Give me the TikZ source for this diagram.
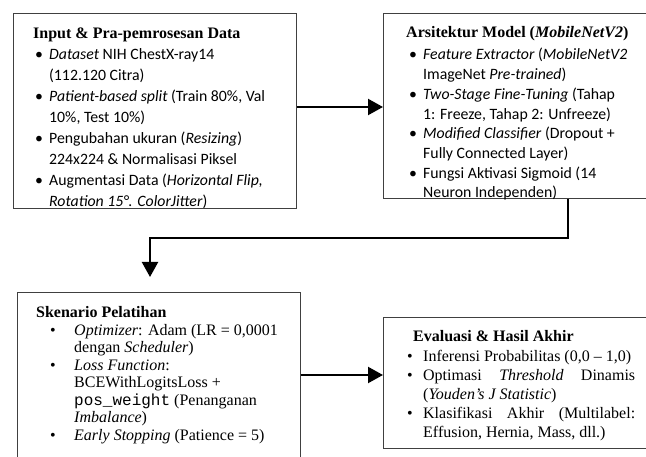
\documentclass[tikz,border=0pt]{standalone}
\usepackage{fontspec}
\setmainfont{Liberation Serif}
\setmonofont{Liberation Mono}
\newfontfamily\calfont{Carlito}
\usetikzlibrary{arrows.meta}
\newcommand\bA[1]{\makebox[16pt][l]{\hspace{2pt}\textbullet}#1}
\newcommand\cA[1]{\hspace*{16pt}#1}
\newcommand\bB[1]{\makebox[17pt][l]{\hspace{3pt}\textbullet}#1}
\newcommand\cB[1]{\hspace*{17pt}#1}
\newcommand\bC[1]{\makebox[38pt][l]{\hspace{14pt}\textbullet}#1}
\newcommand\cC[1]{\hspace*{38pt}#1}
\newcommand\bD[1]{\makebox[16pt][l]{\textbullet}#1}
\newcommand\cD[1]{\hspace*{16pt}#1}
\begin{document}
\begin{tikzpicture}[x=1pt,y=-1pt,
  box/.style={draw=black!75,line width=1.2pt,anchor=north west,inner sep=0pt},
  txt/.style={anchor=base west,inner sep=0pt},
  arr/.style={draw=black,line width=2.2pt,-{Triangle[length=15pt,width=16pt]}}]
\useasboundingbox (0,0) rectangle (646,457);
% boxes
\node[box,minimum width=283pt,minimum height=195pt] (b1) at (13,13) {};
\node[box,minimum width=275pt,minimum height=185pt] (b2) at (383,13) {};
\node[box,minimum width=283pt,minimum height=200pt] (b3) at (17,292) {};
\node[box,minimum width=275pt,minimum height=131pt] (b4) at (383,317) {};
% texts
\begin{scope}
\clip (b1.north west) rectangle (b1.south east);
\node[txt] (t1) at (33,39) {\parbox[t]{260pt}{\calfont\fontsize{15.8}{21}\selectfont
{\rmfamily\bfseries\fontsize{16}{21}\selectfont Input \& Pra-pemrosesan Data}\\
\bA{\textit{Dataset} NIH ChestX-ray14}\\
\cA{(112.120 Citra)}\\
\bA{\textit{Patient-based split} (Train 80\%, Val}\\
\cA{10\%, Test 10\%)}\\
\bA{Pengubahan ukuran (\textit{Resizing})}\\
\cA{224x224 \& Normalisasi Piksel}\\
\bA{Augmentasi Data (\textit{Horizontal Flip,}}\\
\cA{\textit{Rotation 15°. ColorJitter}})}};
\end{scope}
\begin{scope}
\clip (b2.north west) rectangle (b2.south east);
\node[txt] (t2) at (406,38) {\parbox[t]{260pt}{\calfont\fontsize{15.8}{19.7}\selectfont
{\rmfamily\bfseries\fontsize{16}{19.7}\selectfont Arsitektur Model (\textit{MobileNetV2})}\\[2.3pt]
\bB{\textit{Feature Extractor} (\textit{MobileNetV2}}\\
\cB{ImageNet \textit{Pre-trained})}\\
\bB{\textit{Two-Stage Fine-Tuning} (Tahap}\\
\cB{1: Freeze, Tahap 2: Unfreeze)}\\
\bB{\textit{Modified Classifier} (Dropout +}\\
\cB{Fully Connected Layer)}\\
\bB{Fungsi Aktivasi Sigmoid (14}\\
\cB{Neuron Independen)}}};
\end{scope}
\begin{scope}
\clip (b3.north west) rectangle (b3.south east);
\node[txt] (t3) at (36,318) {\parbox[t]{260pt}{\fontsize{16}{17.5}\selectfont
{\bfseries Skenario Pelatihan}\\
\bC{\textit{Optimizer}: Adam (LR = 0,0001}\\
\cC{dengan \textit{Scheduler})}\\
\bC{\textit{Loss Function}:}\\
\cC{BCEWithLogitsLoss +}\\
\cC{\texttt{pos\_weight} (Penanganan}\\
\cC{\textit{Imbalance})}\\
\bC{\textit{Early Stopping} (Patience = 5)}}};
\end{scope}
\begin{scope}
\clip (b4.north west) rectangle (b4.south east);
\node[txt] (t4) at (407,342) {\parbox[t]{260pt}{\fontsize{16}{19.2}\selectfont
\hspace*{6pt}{\bfseries Evaluasi \& Hasil Akhir}\\
\bD{Inferensi Probabilitas (0,0 -- 1,0)}\\
\bD{\makebox[212pt][s]{Optimasi \textit{Threshold} Dinamis}}\\
\cD{(\textit{Youden's J Statistic})}\\
\bD{\makebox[212pt][s]{Klasifikasi Akhir (Multilabel:}}\\
\cD{Effusion, Hernia, Mass, dll.)}}};
\end{scope}
% connectors
\coordinate (a1) at (340,107);
\coordinate (k1) at (568,238);
\coordinate (k2) at (150,238);
\coordinate (a3) at (340,375);
\draw[arr] (b1.east |- a1) -- (b2.west |- a1);
\draw[arr,shorten >=15pt] (b2.south -| k1) -- (k1) -- (k2) -- (b3.north -| k2);
\draw[arr] (b3.east |- a3) -- (b4.west |- a3);
\end{tikzpicture}
\end{document}
